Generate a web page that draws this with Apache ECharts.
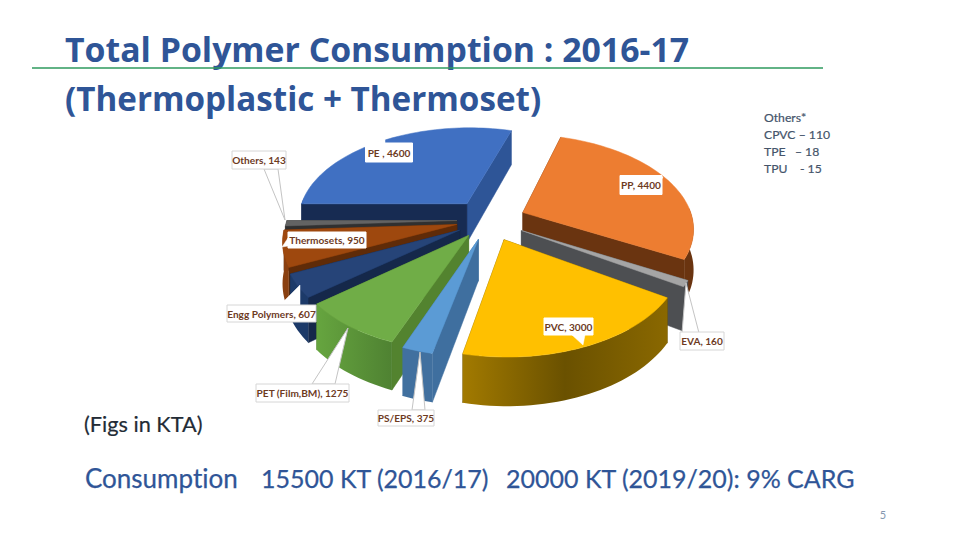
<!DOCTYPE html>
<html><head><meta charset="utf-8">
<style>html,body{margin:0;padding:0;background:#fff}#c{width:960px;height:540px}#c svg text{font-variant-ligatures:none}</style>
<script src="https://cdn.jsdelivr.net/npm/echarts@6/dist/echarts.min.js"></script>
</head><body><div id="c"></div>
<script>
const categories = ['PE ', 'PP', 'EVA', 'PVC', 'PS/EPS', 'PET (Film,BM)', 'Engg Polymers', 'Thermosets', 'Others'];
const values = [4600, 4400, 160, 3000, 375, 1275, 607, 950, 143];
const titleLines = ['Total Polymer Consumption : 2016-17', '(Thermoplastic + Thermoset)'];
const othersNotes = ['Others*', 'CPVC \u2013 110', 'TPE   \u2013 18', 'TPU    - 15'];
const unitNote = '(Figs in KTA)';
const summaryParts = ['Consumption', '15500 KT (2016/17)', '20000 KT (2019/20): 9% CARG'];

// pie layout
const view = {cx: 489, cy: 260, R: 170, k: 0.58, D: 1100, h: 40};
const explode = [38, 37, 37, 38, 36, 34, 34, 33, 32];
const paintOrder = [0, 1, 8, 7, 6, 2, 5, 3, 4];
const topColors = ['#4070c2', '#ed7d31', '#a5a5a5', '#ffc000', '#5b9bd5', '#70ad47', '#264478', '#9e480e', '#636363'];
const cutColors = [['#2e5597', '#172b52'], ['#6a3410', '#6a3410'], ['#4d4f52', '#4d4f52'], ['#6b5200', '#6b5200'],
  ['#3f73a3', '#3f6f9f'], ['#53832f', '#53832f'], ['#15284a', '#15284a'], ['#5f2b08', '#5f2b08'], ['#303030', '#303030']];
const wallStops = [['#172b52', '#172b52'], ['#6a3410', '#6a3410'], ['#4d4f52', '#4d4f52'], ['#a27a00', '#6a5100', '#8a6800'],
  ['#41709f', '#41709f'], ['#66a53f', '#4f8232'], ['#1c3a69', '#1c3a69'], ['#8a4010', '#8a4010'], ['#303030', '#303030']];

const total = values.reduce((a, b) => a + b, 0);
function project(X, Y, z) {
  const s = view.D / (view.D - Y);
  return [view.cx + X * s, view.cy + (Y * view.k - z) * s];
}
function renderSlice(params, api) {
  const i = params.dataIndex;
  let before = 0;
  for (let j = 0; j < i; j++) before += values[j];
  const a0 = Math.PI + before / total * 2 * Math.PI;
  const a1 = a0 + api.value(1) / total * 2 * Math.PI;
  const mid = (a0 + a1) / 2;
  const ox = Math.cos(mid) * explode[i], oy = Math.sin(mid) * explode[i];
  const n = Math.max(4, Math.ceil((a1 - a0) * 30));
  const rim = [];
  for (let t = 0; t <= n; t++) {
    const a = a0 + (a1 - a0) * t / n;
    rim.push([ox + Math.cos(a) * view.R, oy + Math.sin(a) * view.R]);
  }
  const P = (g, z) => project(g[0], g[1], z);
  const apex = [ox, oy];
  const z2 = paintOrder.indexOf(i) * 10 + 1;
  const poly = (pts, fill, dz) => ({type: 'polygon', shape: {points: pts}, z2: z2 + dz,
    style: {fill: fill, stroke: fill, lineWidth: 0.5}});
  const children = [];
  const cut = g => [P(apex, view.h), P(g, view.h), P(g, 0), P(apex, 0)];
  const faces = [
    {pts: cut(rim[0]), c: cutColors[i][1], y: rim[0][1]},
    {pts: cut(rim[n]), c: cutColors[i][0], y: rim[n][1]}
  ].sort((a, b) => a.y - b.y);
  const front = [];
  for (let t = 0; t < n; t++) {
    const a = a0 + (a1 - a0) * (t + 0.5) / n;
    if (Math.sin(a) > -0.05) front.push(t);
  }
  children.push(poly(faces[0].pts, faces[0].c, 0));
  children.push(poly(faces[1].pts, faces[1].c, 1));
  if (front.length) {
    const top = [], bot = [];
    for (let t = front[0]; t <= front[front.length - 1] + 1; t++) {
      top.push(P(rim[t], view.h)); bot.unshift(P(rim[t], 0));
    }
    const stops = wallStops[i];
    const fill = new echarts.graphic.LinearGradient(0, 0, 1, 0,
      stops.map((c, j) => ({offset: j / (stops.length - 1), color: c})));
    const wall = poly(top.concat(bot), fill, 2);
    wall.style.stroke = null; wall.style.lineWidth = 0;
    children.push(wall);
  }
  children.push(poly(rim.map(g => P(g, view.h)).concat([P(apex, view.h)]), topColors[i], 3));
  return {type: 'group', children: children};
}

const callouts = [
  {i: 0, x: 389, y: 152.5, w: 47, h: 19, sep: ' , ', tip: [[369, 144], [385, 139], [385, 144]], line: false},
  {i: 1, x: 641, y: 185, w: 42, h: 19, tip: [[655, 176], [663, 177], [660, 182]], line: false},
  {i: 2, x: 702, y: 341, w: 44, h: 18, tip: [[682, 333], [686, 283], [699, 333]], line: true},
  {i: 3, x: 568.5, y: 326.5, w: 49, h: 17, tip: [[572, 335], [583, 345], [585, 335]], line: false},
  {i: 4, x: 406, y: 418, w: 56, h: 16, tip: [[412, 410], [420, 352], [425, 410]], line: true},
  {i: 5, x: 302.5, y: 393, w: 93, h: 18, tip: [[312, 384], [348, 328], [335, 384]], line: true},
  {i: 6, x: 271.5, y: 313.5, w: 89, h: 17, tip: [[280, 305], [300, 285], [300, 305]], line: false},
  {i: 7, x: 327, y: 240, w: 78, h: 16, tip: [[288, 238], [282, 247], [288, 246]], line: false},
  {i: 8, x: 259, y: 160, w: 54, h: 18, tip: [[264, 169], [285, 220], [278, 169]], line: true}
];
const graphics = [];
const labelFont = {fontFamily: 'Lato', fontWeight: 'bold', fontSize: 10.1, fill: '#6e3b1f'};
callouts.forEach(c => {
  graphics.push({type: 'polygon', z: 20, shape: {points: c.tip},
    style: c.line ? {fill: '#fff', stroke: '#c4c4c4', lineWidth: 1} : {fill: '#fff', stroke: '#fff', lineWidth: 0.5}});
  graphics.push({type: 'rect', z: 21, shape: {x: c.x - c.w / 2, y: c.y - c.h / 2, width: c.w, height: c.h},
    style: {fill: '#fff', stroke: [0, 1, 3, 7].includes(c.i) ? '#fff' : '#d6d6d6', lineWidth: 1}});
  graphics.push({type: 'text', z: 22, x: c.x, y: c.y,
    style: Object.assign({text: categories[c.i].trim() + (c.sep || ', ') + values[c.i], align: 'center', verticalAlign: 'middle'}, labelFont)});
});
const blue = '#2f5597';
[33.8, 33.2].forEach((size, j) => graphics.push({type: 'text', z: 30, x: 65, y: 49 + j * 49,
  style: {text: titleLines[j], fontFamily: 'Open Sans', fontWeight: 'bold', fontSize: size, fill: blue, align: 'left', verticalAlign: 'middle'}}));
graphics.push({type: 'line', z: 31, shape: {x1: 32, y1: 68, x2: 823, y2: 68}, style: {stroke: '#2e9a5e', lineWidth: 1.6}});
othersNotes.forEach((t, j) => graphics.push({type: 'text', z: 30, x: 764, y: 117.5 + j * 17,
  style: {text: t, fontFamily: 'Lato', fontSize: 12.2, fill: '#44546a', stroke: '#44546a', lineWidth: 0.2, align: 'left', verticalAlign: 'middle'}}));
graphics.push({type: 'text', z: 30, x: 84, y: 424,
  style: {text: unitNote, fontFamily: 'Lato', fontSize: 21.7, fill: '#222b35', stroke: '#222b35', lineWidth: 0.2, align: 'left', verticalAlign: 'middle'}});
[[85, 26], [261, 25], [506, 25]].forEach((p, j) => graphics.push({type: 'text', z: 30, x: p[0], y: 478,
  style: {text: summaryParts[j], fontFamily: 'Lato', fontSize: p[1], fill: blue, stroke: blue, lineWidth: 0.25, align: 'left', verticalAlign: 'middle'}}));
graphics.push({type: 'text', z: 30, x: 883, y: 514,
  style: {text: '5', fontFamily: 'Lato', fontSize: 11, fill: '#8497b0', align: 'center', verticalAlign: 'middle'}});

const chart = echarts.init(document.getElementById('c'), null, {renderer: 'svg'});
chart.setOption({
  animation: false,
  backgroundColor: '#fff',
  series: [{
    type: 'custom',
    coordinateSystem: 'none',
    renderItem: renderSlice,
    data: categories.map((n, i) => [n, values[i]]),
    dimensions: ['name', 'value'],
    encode: {itemName: 0, value: 1},
    silent: true
  }],
  graphic: {elements: graphics}
});
</script></body></html>
